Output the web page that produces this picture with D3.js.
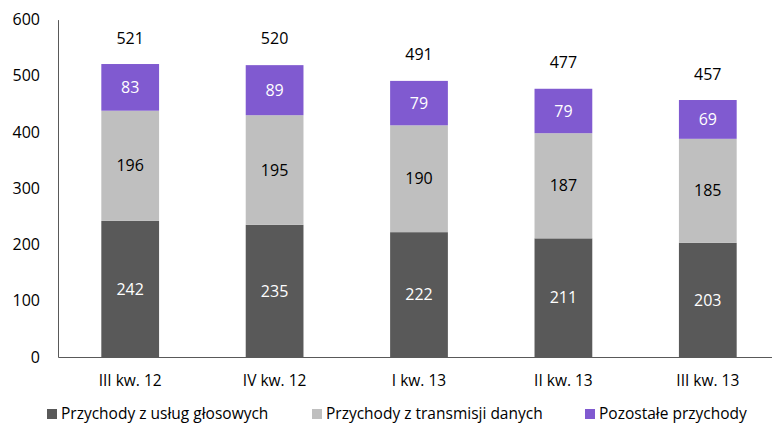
<!DOCTYPE html>
<html>
<head>
<meta charset="utf-8">
<script src="https://cdn.jsdelivr.net/npm/d3@7"></script>
<style>
  body { margin: 0; background: #fff; }
  text { font-family: "Open Sans", "Noto Sans", sans-serif; }
</style>
</head>
<body>
<script>
// data
var quarters = ["III kw. 12", "IV kw. 12", "I kw. 13", "II kw. 13", "III kw. 13"];
var voice = [242, 235, 222, 211, 203];
var dataTx = [196, 195, 190, 187, 185];
var other = [83, 89, 79, 79, 69];
var totals = [521, 520, 491, 477, 457];
var seriesNames = ["Przychody z usług głosowych", "Przychody z transmisji danych", "Pozostałe przychody"];
var yTicks = [0, 100, 200, 300, 400, 500, 600];

var width = 772, height = 426;
var color = ["#595959", "#bfbfbf", "#805ad0"];
var labelColor = ["#fff", "#000", "#fff"];

var svg = d3.select("body").append("svg")
    .attr("width", width)
    .attr("height", height);

var x = d3.scaleBand()
    .domain(quarters)
    .range([58, 780])
    .paddingInner(0.6)
    .paddingOuter(0.3);

var y = d3.scaleLinear()
    .domain([0, 600])
    .range([357, 19.6]);

// build stack rows
var rows = quarters.map(function(q, i) {
    return {q: q, s0: voice[i], s1: dataTx[i], s2: other[i]};
});
var stack = d3.stack().keys(["s0", "s1", "s2"]);
var layers = stack(rows);

var g = svg.selectAll(".layer")
    .data(layers)
    .enter().append("g")
    .attr("class", "layer")
    .attr("fill", function(d, i) { return color[i]; });

g.selectAll("rect")
    .data(function(d) { return d; })
    .enter().append("rect")
    .attr("x", function(d) { return x(d.data.q); })
    .attr("width", x.bandwidth())
    .attr("y", function(d) { return y(d[1]); })
    .attr("height", function(d) { return y(d[0]) - y(d[1]); });

// segment labels
layers.forEach(function(layer, li) {
    svg.selectAll(".lbl" + li)
        .data(layer)
        .enter().append("text")
        .attr("x", function(d) { return x(d.data.q) + x.bandwidth() / 2; })
        .attr("y", function(d) { return (y(d[0]) + y(d[1])) / 2; })
        .attr("dy", "0.35em")
        .attr("text-anchor", "middle")
        .attr("font-size", 16)
        .attr("fill", labelColor[li])
        .text(function(d) { return d[1] - d[0]; });
});

// totals
svg.selectAll(".total")
    .data(quarters)
    .enter().append("text")
    .attr("x", function(d) { return x(d) + x.bandwidth() / 2; })
    .attr("y", function(d, i) { return y(totals[i]) - 26; })
    .attr("dy", "0.35em")
    .attr("text-anchor", "middle")
    .attr("font-size", 16)
    .attr("fill", "#000")
    .text(function(d, i) { return totals[i]; });

// y axis
var yAxis = svg.append("g")
    .attr("transform", "translate(58,0)")
    .call(d3.axisLeft(y).tickValues(yTicks).tickSize(0).tickPadding(18));
yAxis.select(".domain").attr("stroke", "#595959");
yAxis.selectAll("text").attr("font-size", 16).attr("fill", "#000")
    .style("font-family", "'Open Sans', sans-serif");

// x axis
var xAxis = svg.append("g")
    .attr("transform", "translate(0,357)")
    .call(d3.axisBottom(x).tickSize(0).tickPadding(18));
xAxis.select(".domain").attr("stroke", "#595959");
xAxis.selectAll("text").attr("font-size", 15.5).attr("fill", "#000")
    .style("font-family", "'Open Sans', sans-serif");

// legend
var legendX = [47, 312, 585];
var legend = svg.selectAll(".legend")
    .data(seriesNames)
    .enter().append("g")
    .attr("class", "legend")
    .attr("transform", function(d, i) { return "translate(" + legendX[i] + ",414)"; });

legend.append("rect")
    .attr("x", 0)
    .attr("y", -5)
    .attr("width", 10)
    .attr("height", 10)
    .attr("fill", function(d, i) { return color[i]; });

legend.append("text")
    .attr("x", 14)
    .attr("dy", "0.35em")
    .attr("font-size", 15.5)
    .attr("fill", "#000")
    .text(function(d) { return d; });
</script>
</body>
</html>
